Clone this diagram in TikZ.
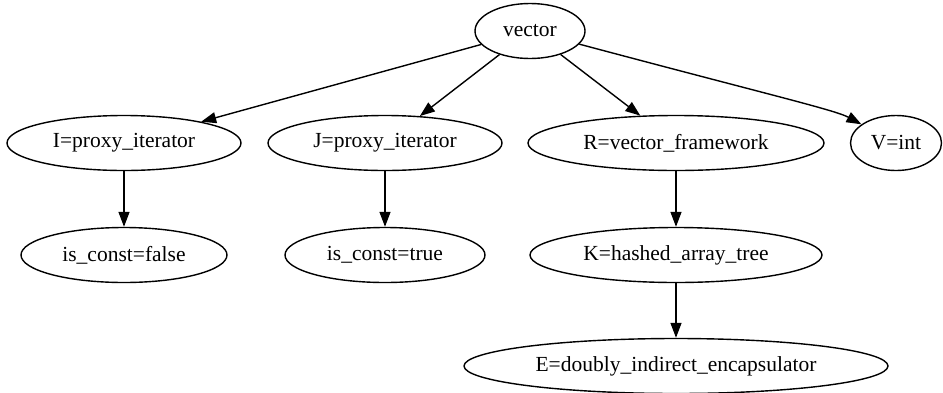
\documentclass[tikz,border=0pt]{standalone}
\usepackage{fontspec}
\setmainfont{Liberation Serif}
\usetikzlibrary{shapes.geometric,arrows.meta}

\begin{document}
\begin{tikzpicture}[>={Triangle[length=15pt,width=11pt]}, x=1pt, y=-1pt,
    line width=1.4pt,
    param/.style={draw, ellipse, inner sep=0pt, minimum height=55pt,
      font=\fontsize{21.5}{26}\selectfont}]
    \useasboundingbox (0, 0) rectangle (943, 392);

    \foreach \n/\x/\y/\w/\t in {vec/530/31/110/vector,
        I/124/143/234/I=proxy\_iterator, J/385/143/234/J=proxy\_iterator,
        R/676/143/296/R=vector\_framework, V/896/143/91/V=int,
        fls/124/255/206/is\_const=false, tru/385/255/200/is\_const=true,
        K/676/255/292/K=hashed\_array\_tree,
        E/676/366/424/E=doubly\_indirect\_encapsulator} {
      \node[param, minimum width=\w pt] (\n) at (\x, \y) {\t};
    }

    \foreach \a/\b in {vec/I, vec/J, vec/R, I/fls, J/tru, R/K, K/E}
      \draw[->] (\a) -- (\b);
    \draw[->] (vec) .. controls (770, 95) and (835, 110) .. (V);
  \end{tikzpicture}
\end{document}
